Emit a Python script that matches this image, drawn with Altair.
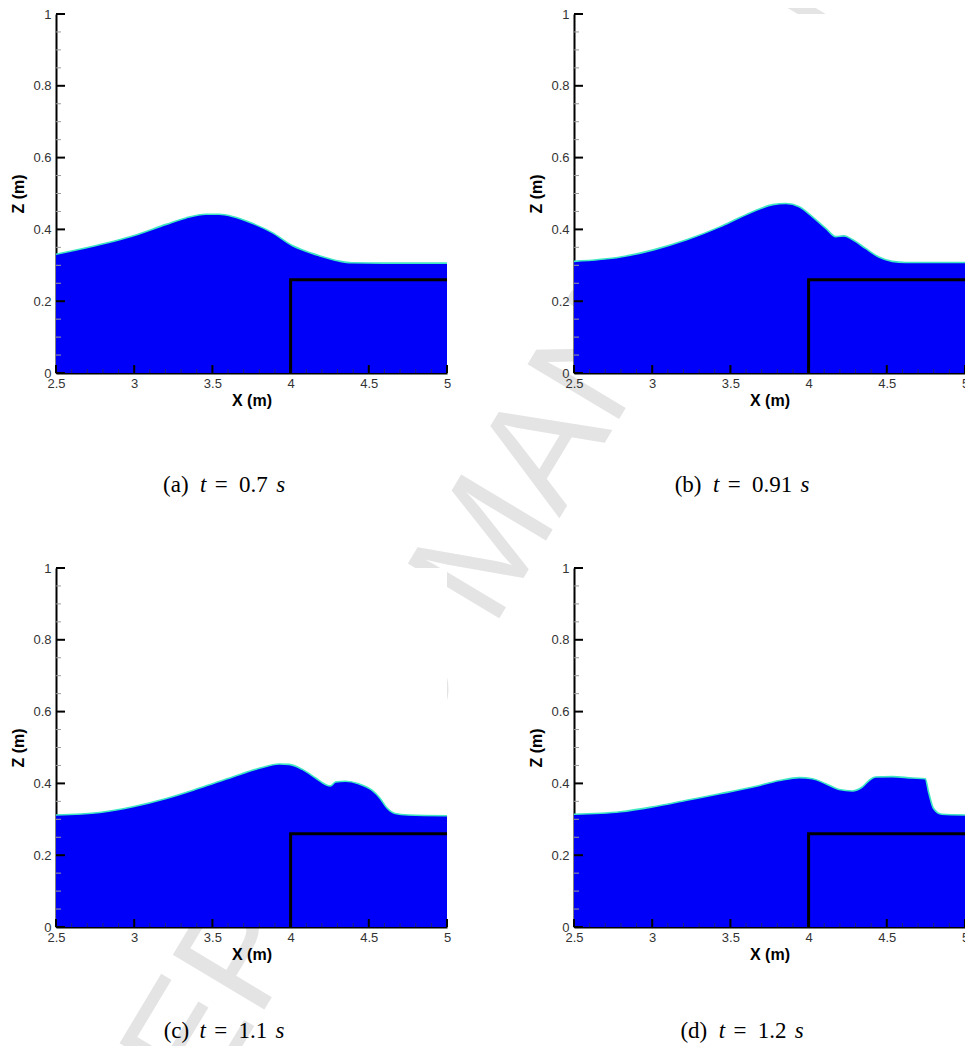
import altair as alt
import pandas as pd

# ---------------- data ----------------
x_a = [2.5, 2.695, 3.0, 3.204, 3.331, 3.458, 3.543, 3.628, 3.755, 3.883, 4.01, 4.073, 4.18, 4.307, 4.39, 4.6, 5.0]
z_a = [0.331, 0.349, 0.383, 0.414, 0.432, 0.442, 0.442, 0.436, 0.417, 0.391, 0.355, 0.343, 0.327, 0.312, 0.307, 0.306, 0.306]

x_b = [2.5, 2.797, 3.008, 3.22, 3.432, 3.56, 3.686, 3.771, 3.856, 3.94, 4.025, 4.11, 4.174, 4.227, 4.28, 4.364, 4.449, 4.534, 4.619, 5.0]
z_b = [0.311, 0.323, 0.343, 0.371, 0.407, 0.433, 0.457, 0.469, 0.472, 0.463, 0.435, 0.403, 0.380, 0.382, 0.372, 0.347, 0.323, 0.311, 0.308, 0.308]

x_c = [2.5, 2.78, 2.992, 3.205, 3.417, 3.629, 3.799, 3.926, 3.99, 4.075, 4.16, 4.223, 4.255, 4.287, 4.35, 4.435, 4.52, 4.573, 4.615, 4.668, 4.753, 5.0]
z_c = [0.312, 0.319, 0.335, 0.358, 0.387, 0.418, 0.442, 0.454, 0.453, 0.439, 0.415, 0.397, 0.393, 0.404, 0.406, 0.399, 0.381, 0.358, 0.332, 0.316, 0.312, 0.310]

x_d = [2.5, 2.797, 3.008, 3.22, 3.432, 3.644, 3.814, 3.941, 4.025, 4.11, 4.195, 4.28, 4.343, 4.386, 4.428, 4.534, 4.661, 4.746, 4.767, 4.799, 4.852, 5.0]
z_d = [0.314, 0.321, 0.335, 0.353, 0.371, 0.390, 0.408, 0.416, 0.413, 0.399, 0.383, 0.379, 0.390, 0.408, 0.418, 0.419, 0.415, 0.413, 0.376, 0.330, 0.314, 0.312]

struct_x = [4.0, 4.0, 5.0]
struct_z = [0.0, 0.26, 0.26]

y_major = [0, 0.2, 0.4, 0.6, 0.8, 1.0]
y_minor = [0.05, 0.1, 0.15, 0.25, 0.3, 0.35, 0.45, 0.5, 0.55, 0.65, 0.7, 0.75, 0.85, 0.9, 0.95]
x_major = [2.5, 3.0, 3.5, 4.0, 4.5, 5.0]
x_minor = [2.6, 2.7, 2.8, 2.9, 3.1, 3.2, 3.3, 3.4, 3.6, 3.7, 3.8, 3.9, 4.1, 4.2, 4.3, 4.4, 4.6, 4.7, 4.8, 4.9]

panel_letters = ["(a)", "(b)", "(c)", "(d)"]
panel_times = ["0.7", "0.91", "1.1", "1.2"]
x_title = "X (m)"
z_title = "Z (m)"
WATERMARK = "ACCEPTED MANUSCRIPT"

# ---------------- styling ----------------
W, H = 391, 359
BLUE = "#0000FA"
EDGE = "#3FE6C4"
XS = alt.Scale(domain=[2.5, 5.0], nice=False, zero=False)
YS = alt.Scale(domain=[0.0, 1.0], nice=False, zero=False)
SANS = "Liberation Sans"
SERIF = "Liberation Serif"
CAP_FS = 23
CW = {"(": .389, ")": .389, "a": .5, "b": .556, "c": .444, "d": .556, ".": .278}


def tw(s):
    return sum(CW.get(ch, .5) for ch in s)


x_axis = alt.Axis(values=x_major, format="~g", title=x_title, ticks=False, grid=False,
                  domainColor="black", domainWidth=2, labelFont=SANS, labelFontSize=13,
                  labelColor="#333333", labelPadding=4, labelOverlap=False, labelFlush=False,
                  titleFont=SANS, titleFontSize=16, titleFontWeight="bold", titleColor="black",
                  titlePadding=2)
y_axis = alt.Axis(values=y_major, format="~g", title=z_title, ticks=False, grid=False,
                  domainColor="black", domainWidth=2, labelFont=SANS, labelFontSize=13,
                  labelColor="#333333", labelPadding=5, labelOverlap=False, labelFlush=False,
                  titleFont=SANS, titleFontSize=16, titleFontWeight="bold", titleColor="black",
                  titlePadding=6)


def X(field):
    return alt.X(field, scale=XS, axis=x_axis)


def Y(field):
    return alt.Y(field, scale=YS, axis=y_axis)


def caption_layers(letter, tval, cap_y):
    pieces = [(letter, "normal", tw(letter)), None, ("t", "italic", .361), None,
              ("=", "normal", .778), None, (tval, "normal", tw(tval)), None, ("s", "italic", .469)]
    gaps = [.333, .278, .278, .333]
    total = sum(p[2] for p in pieces if p) + sum(gaps)
    pos = 169 - total * CAP_FS / 2.0
    layers = []
    gi = 0
    for p in pieces:
        if p is None:
            pos += gaps[gi] * CAP_FS
            gi += 1
            continue
        txt, style, wd = p
        layers.append(
            alt.Chart(pd.DataFrame({"t": [txt]})).mark_text(
                font=SERIF, fontSize=CAP_FS, fontStyle=style, align="left",
                baseline="middle", color="black"
            ).encode(text="t:N", x=alt.value(pos), y=alt.value(cap_y))
        )
        pos += wd * CAP_FS
    return layers


def panel(xv, zv, letter, tval, cap_y, watermark=False):
    df = pd.DataFrame({"x": xv, "z": zv})
    sdf = pd.DataFrame({"x": struct_x, "z": struct_z, "o": [0, 1, 2]})
    layers = []
    if watermark:
        layers.append(
            alt.Chart(pd.DataFrame({"t": [WATERMARK]})).mark_text(
                font=SANS, fontSize=155, angle=301, color="#e4e4e4",
                align="center", baseline="middle"
            ).encode(text="t:N", x=alt.value(432), y=alt.value(532))
        )
    area = alt.Chart(df).mark_area(color=BLUE, opacity=1, interpolate="monotone").encode(
        x=X("x:Q"), y=Y("z:Q"))
    surf = alt.Chart(df).mark_line(color=EDGE, strokeWidth=1.6, interpolate="monotone").encode(
        x=X("x:Q"), y=Y("z:Q"))
    struct = alt.Chart(sdf).mark_line(color="black", strokeWidth=3, strokeJoin="miter").encode(
        x=X("x:Q"), y=Y("z:Q"), order="o:Q")
    ymaj = alt.Chart(pd.DataFrame({"v": y_major})).mark_rule(color="black", strokeWidth=2).encode(
        y=Y("v:Q"), x=alt.value(0), x2=alt.value(9))
    ymin = alt.Chart(pd.DataFrame({"v": y_minor})).mark_rule(color="#9a9a9a", strokeWidth=1).encode(
        y=Y("v:Q"), x=alt.value(0), x2=alt.value(5))
    xmaj = alt.Chart(pd.DataFrame({"v": x_major})).mark_rule(color="black", strokeWidth=2).encode(
        x=X("v:Q"), y=alt.value(H), y2=alt.value(H - 8))
    xmin = alt.Chart(pd.DataFrame({"v": x_minor})).mark_rule(color="#20207a", strokeWidth=1).encode(
        x=X("v:Q"), y=alt.value(H), y2=alt.value(H - 4))
    layers += [area, surf, struct, ymin, xmin, ymaj, xmaj]
    layers += caption_layers(letter, tval, cap_y)
    return alt.layer(*layers).properties(width=W, height=H)


pa = panel(x_a, z_a, panel_letters[0], panel_times[0], 471, watermark=True)
pb = panel(x_b, z_b, panel_letters[1], panel_times[1], 471)
pc = panel(x_c, z_c, panel_letters[2], panel_times[2], 463)
pdd = panel(x_d, z_d, panel_letters[3], panel_times[3], 463)

chart = alt.concat(
    pa, pb, pc, pdd, columns=2,
    spacing=alt.RowColnumber(row=195, column=127), bounds="flush"
).properties(
    autosize=alt.AutoSizeParams(type="none"),
    padding={"left": 48, "top": 6, "right": 909, "bottom": 1032},
).configure_view(strokeWidth=0, fill="white")

chart.save("out.html", embed_options={"renderer": "svg", "actions": False})
